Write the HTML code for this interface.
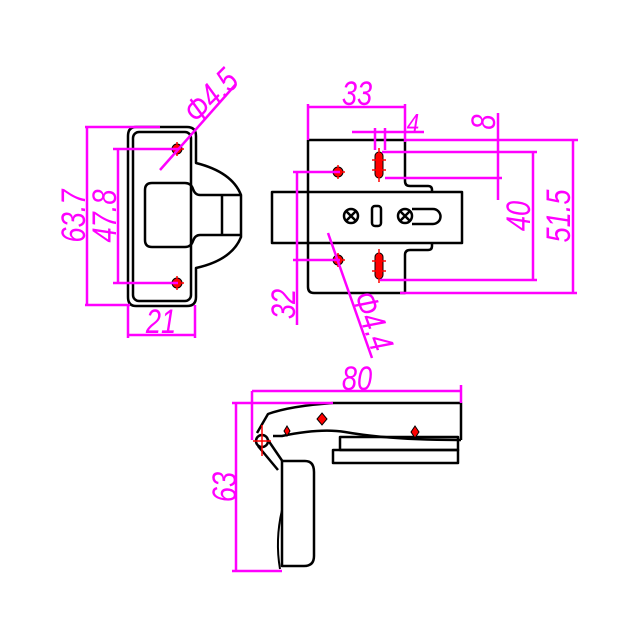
<!DOCTYPE html>
<html><head><meta charset="utf-8"><style>
html,body{margin:0;padding:0;background:#fff;}
svg{display:block}
text{font-family:"Liberation Sans",sans-serif;fill:#ff00ff;font-style:italic;}
</style></head><body>
<svg width="638" height="624" viewBox="0 0 638 624" xmlns="http://www.w3.org/2000/svg">
<g fill="none" stroke="#000" stroke-width="2.5" stroke-linejoin="round">
<path d="M136,127 H187 Q196,127 196,136 V163 Q232,172 241,195 V237 Q232,260 196,268 V297 Q196,306 187,306 H136 Q128,306 128,297 V136 Q128,127 136,127 Z"/>
<rect x="133" y="132" width="58" height="169" rx="6"/>
<path d="M240,195 H200 Q195,195 193,189 Q191,183 185,183 H152 Q145,183 145,190 V240 Q145,247 152,247 H185 Q191,247 193,241 Q195,235 200,235 H240"/>
<line x1="222" y1="195" x2="222" y2="235"/>
<path d="M308,140 H405 V181 Q405,186 410,186 H428 Q432,186 432,190 V192 M432,243 V246 Q432,250 428,250 H410 Q405,250 405,255 V293 H314 Q308,293 308,287 V140"/>
<rect x="272" y="192" width="190" height="51"/>
<circle cx="351" cy="216" r="7"/><path d="M346,211 L356,221 M356,211 L346,221"/>
<circle cx="405" cy="216" r="7"/><path d="M400,211 L410,221 M410,211 L400,221"/>
<rect x="372" y="206" width="9" height="20" rx="3"/>
<path d="M412,209 H433 A7.5,7.5 0 0 1 433,224 H412"/>
<path d="M333,403 H461 V440"/>
<path d="M333,403 Q290,406 268,414 L257,433"/>
<path d="M273,436 H282 Q320,428 345,432 Q390,440 458,440 H461"/>
<circle cx="262" cy="441" r="6"/>
<path d="M258,446 L278,470 M268,440 L283,462"/>
<rect x="340" y="437" width="118" height="13"/>
<rect x="333" y="450" width="125" height="13"/>
<path d="M282,461 H305 Q314,461 314,472 V556 Q314,566 304,566 H282 Z"/>
<path d="M282,510 Q275,540 280,569" stroke-width="2"/>
</g>
<g fill="#ff0000" stroke="#000" stroke-width="1">
<circle cx="177" cy="149" r="5"/><circle cx="177" cy="283" r="5"/>
<circle cx="338" cy="172" r="5"/><circle cx="338" cy="260" r="5"/>
<rect x="375" y="152" width="8" height="26" rx="4"/><rect x="375" y="253" width="8" height="26" rx="4"/>
<path d="M322,413 l5,6 -5,6 -5,-6z"/><path d="M415,426 l4,6 -4,6 -4,-6z"/><path d="M287,426 l3,5 -3,5 -3,-5z"/>
</g>
<g stroke="#ff0000" stroke-width="1.5">
<path d="M170,149 H184 M177,142 V156 M170,283 H184 M177,276 V290"/>
<path d="M331,172 H345 M338,165 V179 M331,260 H345 M338,253 V267"/>
<path d="M372,160 H386 M372,170 H386 M379,148 V182 M372,261 H386 M372,271 H386 M379,249 V283"/>
<path d="M253,441 H271 M262,425 V456"/>
</g>
<g stroke="#ff00ff" stroke-width="2.5" fill="none">
<path d="M85,127 H160 M85,305 H130 M87,127 V305"/>
<path d="M113,149 H178 M113,283 H178 M118,149 V283"/>
<path d="M128,305 V338 M195,305 V338 M128,335 H195"/>
<path d="M160,170 L236,84"/>
<path d="M308,104 V140 M405,104 V142 M308,107 H405"/>
<path d="M352,132 H424 M375,128 V150 M385,128 V150"/>
<path d="M405,140 H578 M382,152 H537 M385,178 H502 M380,280 H537 M400,293 H577"/>
<path d="M498,113 V200 M533,152 V280 M573,140 V293"/>
<path d="M293,172 H340 M293,260 H340 M297,172 V325"/>
<path d="M328,233 L372,358"/>
<path d="M252,391 H461 M252,391 V440 M461,385 V403"/>
<path d="M232,403 H333 M232,571 H282 M236,403 V571"/>
</g>
<g font-size="34" text-anchor="middle">
<text transform="translate(85,216) rotate(-90) scale(0.8,1)">63.7</text>
<text transform="translate(116,216) rotate(-90) scale(0.8,1)">47.8</text>
<text transform="translate(161,333) scale(0.8,1)">21</text>
<text transform="translate(219,104) rotate(-45) scale(0.8,1)">Φ4.5</text>
<text transform="translate(357,105) scale(0.8,1)">33</text>
<text transform="translate(413,133) scale(0.8,1)" font-size="28">4</text>
<text transform="translate(495,122) rotate(-90) scale(0.8,1)">8</text>
<text transform="translate(530,216) rotate(-90) scale(0.8,1)">40</text>
<text transform="translate(570,216) rotate(-90) scale(0.8,1)">51.5</text>
<text transform="translate(295,304) rotate(-90) scale(0.8,1)">32</text>
<text transform="translate(362,325) rotate(70) scale(0.8,1)">Φ4.4</text>
<text transform="translate(357,390) scale(0.8,1)">80</text>
<text transform="translate(236,487) rotate(-90) scale(0.8,1)">63</text>
</g>
</svg>
</body></html>
